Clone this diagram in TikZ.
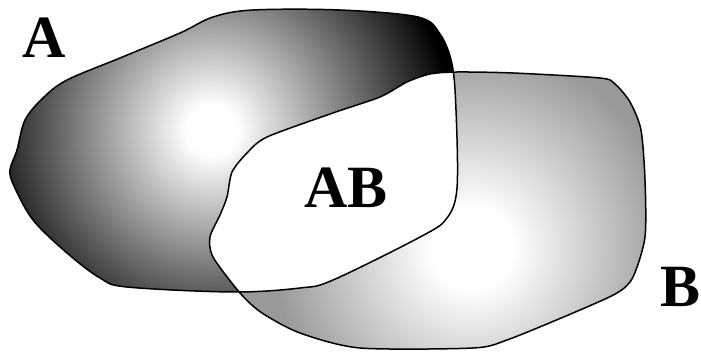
\documentclass[tikz,border=0pt]{standalone}
\usepackage{fontspec}
\setmainfont{Liberation Serif}
\pgfdeclareradialshading{shadeA}{\pgfpoint{0bp}{0bp}}{color(0bp)=(white); color(2.6bp)=(white); color(25bp)=(black); color(50bp)=(black)}
\pgfdeclareradialshading{shadeB}{\pgfpoint{0bp}{0bp}}{color(0bp)=(white); color(5bp)=(white); color(25bp)=(black!40); color(50bp)=(black!40)}
\begin{document}
\begin{tikzpicture}[x=1pt,y=-1pt,
  outline/.style={draw=black,line width=1.5pt,line join=round},
  lbl/.style={font=\fontsize{60}{60}\selectfont\bfseries,inner sep=0pt}]
\useasboundingbox (0,0) rectangle (701,352);
\def\pathA{plot[smooth cycle,tension=0.55] coordinates {(253,10) (340,10) (418,17) (440,34) (452,64) (456,110) (457,188) (447,218) (422,236) (333,280) (300,288) (233,292) (127,287) (100,278) (67,253) (33,220) (14,186) (10,170) (17,150) (25,120) (43,98) (67,80) (120,58) (180,33) (213,17)}}
\def\pathB{plot[smooth cycle,tension=0.45] coordinates {(457,72) (513,73) (600,78) (615,84) (630,102) (641,130) (645,180) (645,237) (633,277) (617,293) (573,313) (507,340) (473,348) (360,348) (300,333) (262,313) (240,293) (213,257) (210,237) (220,215) (227,197) (232,172) (247,153) (267,137) (333,113) (380,97) (407,82) (430,74)}}
% shape A shading
\begin{scope}
  \clip \pathA;
  \fill[black] (0,0) rectangle (701,352);
  \shade[shading=shadeA] (212,130) circle (240);
\end{scope}
% shape B shading
\begin{scope}
  \clip \pathB;
  \fill[black!40] (0,0) rectangle (701,352);
  \shade[shading=shadeB] (472,248) circle (200);
\end{scope}
% intersection white
\begin{scope}
  \clip \pathA;
  \fill[white] \pathB;
\end{scope}
\draw[outline] \pathA;
\draw[outline] \pathB;
\node[lbl] (la) at (44,38) {A};
\node[lbl] (lab) at (346,188) {AB};
\node[lbl] (lb) at (681,287) {B};
\end{tikzpicture}
\end{document}
